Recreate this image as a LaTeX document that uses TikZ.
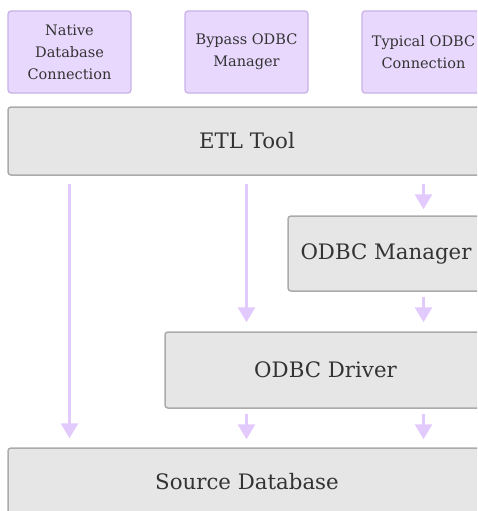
\documentclass[tikz,border=0pt]{standalone}
\usepackage{fontspec}
\setmainfont{DejaVu Serif}
\usetikzlibrary{arrows.meta}
\definecolor{lavfill}{HTML}{E8D8FE}
\definecolor{lavline}{HTML}{C8B2E8}
\definecolor{greyfill}{HTML}{E6E6E6}
\definecolor{greyline}{HTML}{ABABAB}
\definecolor{flowline}{HTML}{E2CAFD}
\definecolor{inktext}{HTML}{333333}
\tikzset{
  entry/.style={draw=lavline, fill=lavfill, line width=1.2pt, rounded corners=3pt,
    minimum width=123pt, minimum height=82pt, align=center, text=inktext,
    font=\fontsize{14.5}{22}\selectfont, inner sep=0pt},
  layer/.style={draw=greyline, fill=greyfill, line width=1.5pt, rounded corners=3pt,
    align=center, text=inktext, font=\fontsize{21.3}{26}\selectfont, inner sep=0pt},
  flow/.style={draw=flowline, line width=3pt, -{Triangle[width=17pt,length=15pt]}}
}
\begin{document}
\begin{tikzpicture}[x=1pt,y=-1pt]
  \useasboundingbox (0,0) rectangle (477,511);
  \clip (0,0) rectangle (477,511);
  \fill[white] (0,0) rectangle (477,511);

  % connection styles
  \node[entry] (native)  at (69.5,52)  {Native\\Database\\Connection};
  \node[entry] (bypass)  at (246.5,52) {Bypass ODBC\\Manager};
  \node[entry] (typical) at (423.5,52) {Typical ODBC\\Connection};

  % software layers
  \node[layer, minimum width=478pt, minimum height=68pt] (etl) at (247,141) {ETL Tool};
  \node[layer, minimum width=196pt, minimum height=75pt] (mgr) at (386,253.5) {ODBC Manager};
  \node[layer, minimum width=321pt, minimum height=76pt] (drv) at (325.5,370) {ODBC Driver};
  \node[layer, minimum width=478pt, minimum height=68pt] (src) at (247,482) {Source Database};

  % data paths
  \draw[flow, shorten <=8pt, shorten >=9pt] (etl.south -| native) -- (src.north -| native);
  \draw[flow, shorten <=8pt, shorten >=9pt] (etl.south -| bypass) -- (drv.north -| bypass);
  \draw[flow, shorten <=5pt, shorten >=8pt] (drv.south -| bypass) -- (src.north -| bypass);
  \draw[flow, shorten <=8pt, shorten >=6pt] (etl.south -| typical) -- (mgr.north -| typical);
  \draw[flow, shorten <=5pt, shorten >=9pt] (mgr.south -| typical) -- (drv.north -| typical);
  \draw[flow, shorten <=5pt, shorten >=8pt] (drv.south -| typical) -- (src.north -| typical);
\end{tikzpicture}
\end{document}
